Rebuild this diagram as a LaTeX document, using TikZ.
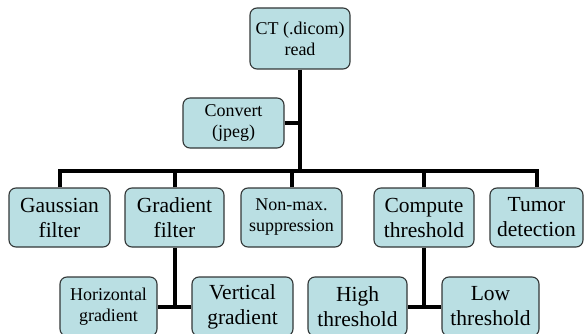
\documentclass[tikz,border=0pt]{standalone}
\usepackage{fontspec}
\setmainfont{Liberation Serif}
\definecolor{boxfill}{RGB}{186,223,227}
\definecolor{boxedge}{RGB}{50,55,55}
\tikzset{
  box/.style={draw=boxedge, line width=1.1pt, fill=boxfill, rounded corners=7pt,
    align=center, inner sep=0pt, minimum height=59pt},
  bigtext/.style={font=\fontsize{21.5}{25}\selectfont},
  smalltext/.style={font=\fontsize{18}{21}\selectfont},
  link/.style={line width=4pt, black}
}
\begin{document}
\begin{tikzpicture}[x=1pt,y=-1pt]
\useasboundingbox (0,0) rectangle (586,334);
\coordinate (bar) at (300,171);
\begin{scope}
\clip (0,0) rectangle (586,334);
% top level
\node[box, smalltext, minimum width=100pt, minimum height=61pt] (ct) at (300,38.5) {CT (.dicom)\\read};
\node[box, smalltext, minimum width=101pt, minimum height=50pt] (conv) at (233.5,123) {Convert\\(jpeg)};
% second level
\node[box, bigtext, minimum width=101pt] (gauss) at (59.5,217.5) {Gaussian\\filter};
\node[box, bigtext, minimum width=99pt] (grad) at (174.5,217.5) {Gradient\\filter};
\node[box, smalltext, minimum width=101pt] (nms) at (291.5,217.5) {Non-max.\\suppression};
\node[box, bigtext, minimum width=100pt] (comp) at (424,217.5) {Compute\\threshold};
\node[box, bigtext, minimum width=93pt] (tumor) at (536.5,217.5) {Tumor\\detection};
% third level
\node[box, smalltext, minimum width=97pt] (hgrad) at (108.5,306.5) {Horizontal\\gradient};
\node[box, bigtext, minimum width=101pt] (vgrad) at (242.5,306.5) {Vertical\\gradient};
\node[box, bigtext, minimum width=99pt] (high) at (357.5,306.5) {High\\threshold};
\node[box, bigtext, minimum width=97pt] (low) at (490.5,306.5) {Low\\threshold};
\end{scope}
% tree links
\draw[link] (ct.south) -- (bar);
\draw[link] (conv.east) -- (conv.east -| ct.south);
\draw[link] (gauss.north) |- (bar) -| (tumor.north);
\draw[link] (grad.north) -- (grad.north |- bar);
\draw[link] (nms.north) -- (nms.north |- bar);
\draw[link] (comp.north) -- (comp.north |- bar);
\draw[link] (grad.south) |- (hgrad.east);
\draw[link] (grad.south |- hgrad.east) -- (vgrad.west);
\draw[link] (comp.south) |- (high.east);
\draw[link] (comp.south |- high.east) -- (low.west);
\end{tikzpicture}
\end{document}
